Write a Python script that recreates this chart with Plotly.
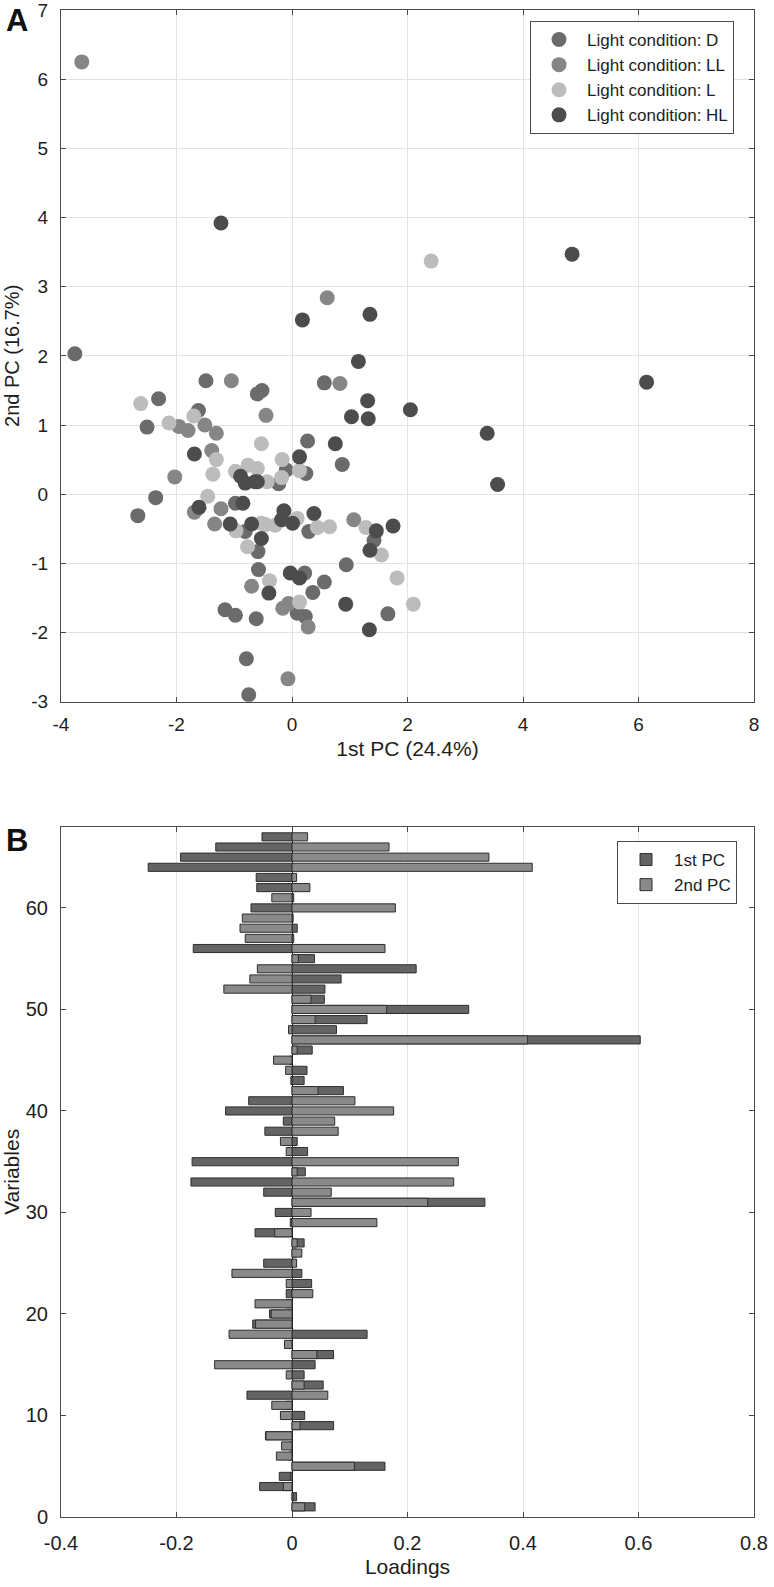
import plotly.graph_objects as go

FONT = "Liberation Sans, Arial, Helvetica, sans-serif"

# ---------------- Panel A data (PCA scores) ----------------
groups = ["Light condition: D", "Light condition: LL", "Light condition: L", "Light condition: HL"]
group_colors = ["#6b6b6b", "#868686", "#bcbcbc", "#4c4c4c"]

d_x = [-3.76, -1.49, -0.60, -0.52, -2.31, -1.62, -2.51, 0.56, 0.27, 0.87, -0.10, 0.24, -0.23,
       -2.36, -2.67, -0.98, -0.81, -0.59, -0.58, -1.16, -0.98, -0.62, -0.79, -0.75, 0.29, 1.42,
       0.94, 1.66, 0.22, 0.56, 0.36, 0.09, 0.23]
d_y = [2.03, 1.64, 1.45, 1.50, 1.38, 1.21, 0.97, 1.61, 0.77, 0.43, 0.35, 0.30, 0.15,
       -0.05, -0.31, -0.13, -0.54, -0.83, -1.09, -1.67, -1.75, -1.80, -2.38, -2.90, -0.54, -0.67,
       -1.02, -1.73, -1.14, -1.27, -1.42, -1.72, -1.77]

ll_x = [-3.64, -1.05, 0.61, 0.83, -0.45, -1.96, -1.80, -1.51, -1.31, -1.39, -2.03, -1.23, -1.34,
        -1.69, -0.70, 1.07, -0.07, -0.06, -0.16, 0.28]
ll_y = [6.25, 1.64, 2.84, 1.60, 1.14, 0.98, 0.92, 1.00, 0.88, 0.63, 0.25, -0.21, -0.43,
        -0.26, -1.33, -0.37, -2.67, -1.58, -1.65, -1.92]

l_x = [2.41, -2.62, -1.70, -2.13, -0.53, -1.31, -1.37, -0.98, -0.76, -0.60, -0.17, 0.13, -0.18,
       -0.43, -1.46, -0.97, -0.53, -0.77, 0.09, 0.44, 0.65, -0.29, -0.46, 1.28, 1.55, 1.82, 2.10,
       -0.39, 0.13]
l_y = [3.37, 1.31, 1.13, 1.03, 0.73, 0.50, 0.29, 0.33, 0.42, 0.37, 0.50, 0.34, 0.24,
       0.18, -0.03, -0.53, -0.42, -0.76, -0.35, -0.48, -0.47, -0.45, -0.44, -0.48, -0.88, -1.21, -1.59,
       -1.25, -1.56]

hl_x = [-1.23, 4.85, 6.14, 3.38, 3.56, 0.18, 1.35, 1.15, 1.31, 2.05, 1.03, 1.32, 0.75, 0.13,
        -1.69, -0.89, -0.64, -0.81, -0.60, -1.61, -0.85, -1.07, -0.70, -0.53, -0.14, 0.01, -0.18,
        0.38, 1.46, 1.75, 1.35, 1.34, 0.93, -0.03, 0.13, -0.40]
hl_y = [3.92, 3.47, 1.62, 0.88, 0.14, 2.52, 2.60, 1.92, 1.35, 1.22, 1.12, 1.09, 0.73, 0.54,
        0.58, 0.26, 0.18, 0.16, 0.18, -0.19, -0.13, -0.43, -0.43, -0.64, -0.24, -0.42, -0.37,
        -0.28, -0.53, -0.46, -0.81, -1.96, -1.59, -1.14, -1.21, -1.43]

scores_x = [d_x, ll_x, l_x, hl_x]
scores_y = [d_y, ll_y, l_y, hl_y]

# ---------------- Panel B data (loadings) ----------------
variables = list(range(1, 68))
pc1 = [0.040, 0.008, -0.056, -0.022, 0.161, -0.005, -0.004, -0.046, 0.072, 0.022,
       -0.010, -0.078, 0.054, 0.021, 0.040, 0.072, -0.005, 0.130, -0.068, -0.039,
       -0.010, -0.010, 0.034, 0.017, -0.049, 0.008, 0.021, -0.064, -0.003, -0.029,
       0.334, -0.049, -0.175, 0.023, -0.173, 0.027, 0.009, -0.047, -0.015, -0.115,
       -0.075, 0.089, 0.021, 0.026, -0.004, 0.035, 0.603, 0.077, 0.130, 0.306,
       0.056, 0.057, 0.085, 0.215, 0.039, -0.171, 0.003, 0.009, 0.002, -0.071,
       0.003, -0.061, -0.062, -0.249, -0.193, -0.132, -0.052]
pc2 = [0.022, 0.002, -0.015, -0.003, 0.108, -0.027, -0.018, -0.045, 0.014, -0.020,
       -0.035, 0.062, 0.021, -0.010, -0.134, 0.043, -0.013, -0.109, -0.063, -0.036,
       -0.064, 0.036, -0.010, -0.104, 0.008, 0.017, 0.009, -0.030, 0.147, 0.033,
       0.235, 0.068, 0.280, 0.009, 0.288, -0.010, -0.020, 0.080, 0.074, 0.176,
       0.109, 0.045, -0.002, -0.011, -0.032, 0.009, 0.408, -0.006, 0.040, 0.164,
       0.033, -0.118, -0.073, -0.060, 0.011, 0.161, -0.081, -0.090, -0.086, 0.179,
       -0.035, 0.031, 0.008, 0.416, 0.341, 0.168, 0.027]
bar_names = ["1st PC", "2nd PC"]
bar_colors = ["#646464", "#8a8a8a"]

# tick labels
a_xticks = [-4, -2, 0, 2, 4, 6, 8]
a_yticks = [-3, -2, -1, 0, 1, 2, 3, 4, 5, 6, 7]
b_xticks = [-0.4, -0.2, 0, 0.2, 0.4, 0.6, 0.8]
b_xticklabels = ["-0.4", "-0.2", "0", "0.2", "0.4", "0.6", "0.8"]
b_yticks = [0, 10, 20, 30, 40, 50, 60]

fig = go.Figure()

for i, name in enumerate(groups):
    fig.add_trace(go.Scatter(
        x=scores_x[i], y=scores_y[i], mode="markers", name=name,
        marker=dict(size=15, color=group_colors[i], line=dict(width=0)),
        xaxis="x", yaxis="y", legend="legend", legendgroup=name,
    ))

for vals, nm, col in zip([pc1, pc2], bar_names, bar_colors):
    fig.add_trace(go.Bar(
        x=vals, y=variables, orientation="h", name=nm, width=0.8,
        marker=dict(color=col, line=dict(color="#2e2e2e", width=1)),
        xaxis="x2", yaxis="y2", legend="legend2", legendgroup=nm,
    ))

L, R, T, B = 61, 20, 10, 70
W = 774 - L - R
H = 1587 - T - B

def ydom(top_px, bot_px):
    lo = (1587 - B - bot_px) / H
    hi = (1587 - B - top_px) / H
    return [min(max(lo, 0.0), 1.0), min(max(hi, 0.0), 1.0)]

def px_x(px):
    return (px - L) / W

def px_y(py):
    return (1587 - B - py) / H

def axis_style(size, standoff=8):
    return dict(
        showline=True, linecolor="#4a4a4a", linewidth=1, mirror="allticks",
        ticks="inside", ticklen=5, tickcolor="#4a4a4a",
        gridcolor="#e3e3e3", gridwidth=1, zeroline=False,
        tickfont=dict(family=FONT, size=size, color="#1e1e1e"),
        ticklabelstandoff=standoff, ticklabeloverflow="allow", automargin=False,
    )

fig.update_layout(
    width=774, height=1587,
    margin=dict(l=L, r=R, t=T, b=B, autoexpand=False),
    paper_bgcolor="white", plot_bgcolor="white",
    barmode="overlay", bargap=0.2,
    font=dict(family=FONT, color="#1e1e1e"),
    xaxis=dict(domain=[0, 1], anchor="y", range=[-4, 8], tickvals=a_xticks,
               ticktext=[str(v) for v in a_xticks], showgrid=True,
               title=dict(text="1st PC (24.4%)", font=dict(size=21), standoff=7),
               **axis_style(19, 5)),
    yaxis=dict(domain=ydom(10, 701.7), anchor="x", range=[-3, 7], tickvals=a_yticks,
               ticktext=[str(v) for v in a_yticks], showgrid=True,
               title=dict(text="2nd PC (16.7%)", font=dict(size=20), standoff=6),
               **axis_style(19, 8)),
    xaxis2=dict(domain=[0, 1], anchor="y2", range=[-0.4, 0.8], tickvals=b_xticks,
                ticktext=b_xticklabels, showgrid=True,
                title=dict(text="Loadings", font=dict(size=21), standoff=6),
                **axis_style(20, 8)),
    yaxis2=dict(domain=ydom(826.7, 1517.0), anchor="x2", range=[0, 68], tickvals=b_yticks,
                ticktext=[str(v) for v in b_yticks], showgrid=False,
                title=dict(text="Variables", font=dict(size=21), standoff=2),
                **axis_style(20, 8)),
    legend=dict(x=px_x(530), y=px_y(21), xanchor="left", yanchor="top",
                bgcolor="white", bordercolor="#4a4a4a", borderwidth=1,
                font=dict(family=FONT, size=17, color="#1e1e1e"),
                tracegroupgap=0, itemwidth=46),
    legend2=dict(x=px_x(617), y=px_y(841), xanchor="left", yanchor="top",
                 bgcolor="white", bordercolor="#4a4a4a", borderwidth=1,
                 font=dict(family=FONT, size=17, color="#1e1e1e"),
                 tracegroupgap=0, itemwidth=46),
    showlegend=True,
)

fig.update_layout(xaxis2=dict(zeroline=True, zerolinecolor="#111111", zerolinewidth=1))

fig.add_annotation(text="<b>A</b>", x=px_x(17), y=px_y(20), xref="paper", yref="paper",
                   xanchor="center", yanchor="middle", showarrow=False,
                   font=dict(family=FONT, size=31, color="#111111"))
fig.add_annotation(text="<b>B</b>", x=px_x(17), y=px_y(840), xref="paper", yref="paper",
                   xanchor="center", yanchor="middle", showarrow=False,
                   font=dict(family=FONT, size=31, color="#111111"))

fig.write_html(
    "out.html",
    config={"displayModeBar": False},
    post_script="document.body.style.margin='0px';document.body.style.padding='0px';"
                "document.documentElement.style.margin='0px';",
)
